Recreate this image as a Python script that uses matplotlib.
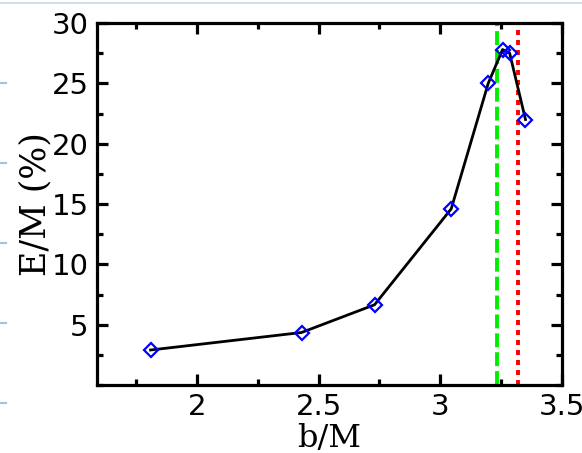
import matplotlib
matplotlib.use("Agg")
import matplotlib.pyplot as plt
from matplotlib.lines import Line2D
from matplotlib.ticker import MultipleLocator, FixedLocator

# data
b_over_M = [1.81, 2.43, 2.73, 3.045, 3.197, 3.256, 3.285, 3.35]
E_over_M = [2.9, 4.35, 6.65, 14.6, 25.0, 27.8, 27.5, 22.0]
green_x = 3.233
red_x = 3.32
xticks = [2, 2.5, 3, 3.5]
xticklabels = ["2", "2.5", "3", "3.5"]
yticks = [5, 10, 15, 20, 25, 30]
yticklabels = ["5", "10", "15", "20", "25", "30"]

plt.rcParams['lines.scale_dashes'] = False
fig = plt.figure(figsize=(5.82, 4.53), dpi=100)
ax = fig.add_axes([97/582, 1-385/453, (562-97)/582, (385-23)/453])

ax.plot(b_over_M, E_over_M, color='black', lw=2.0, zorder=3)
ax.plot(b_over_M, E_over_M, ls='none', marker='D', ms=7.5, mfc='none',
        mec='#0000ff', mew=1.6, zorder=4)
ax.axvline(green_x, color='#00ee00', lw=2.8, ls=(0, (10, 3.6)), zorder=2)
ax.axvline(red_x, color='#ff0000', lw=2.8, ls=(0, (3.6, 3.6)), zorder=2)

ax.set_xlim(1.59, 3.5)
ax.set_ylim(0, 30)
ax.xaxis.set_major_locator(FixedLocator(xticks))
ax.set_xticklabels(xticklabels)
ax.yaxis.set_major_locator(FixedLocator(yticks))
ax.set_yticklabels(yticklabels)
ax.xaxis.set_minor_locator(MultipleLocator(0.25))
ax.yaxis.set_minor_locator(MultipleLocator(2.5))

for s in ax.spines.values():
    s.set_linewidth(2.3)
ax.tick_params(which='both', direction='in', top=True, right=True, width=2.3)
ax.tick_params(which='major', length=8, labelsize=21, pad=6)
ax.tick_params(which='minor', length=4)
for lab in ax.get_xticklabels() + ax.get_yticklabels():
    lab.set_family('DejaVu Sans')

ax.set_xlabel('b/M', family='DejaVu Serif', fontsize=23)
ax.set_ylabel('E/M (%)', family='DejaVu Serif', fontsize=25)
ax.xaxis.set_label_coords(0.5, -0.105)
ax.yaxis.set_label_coords(-0.095, 0.5)

# screenshot decorations
fig.add_artist(Line2D([0, 1], [1-3/453, 1-3/453], color='#c8d8e8', lw=1.2))
for yy in [83, 163, 243, 323, 403]:
    fig.add_artist(Line2D([0, 6/582], [1-yy/453, 1-yy/453], color='#a8c0d8', lw=1.5))

fig.savefig('out.png', dpi=100)
